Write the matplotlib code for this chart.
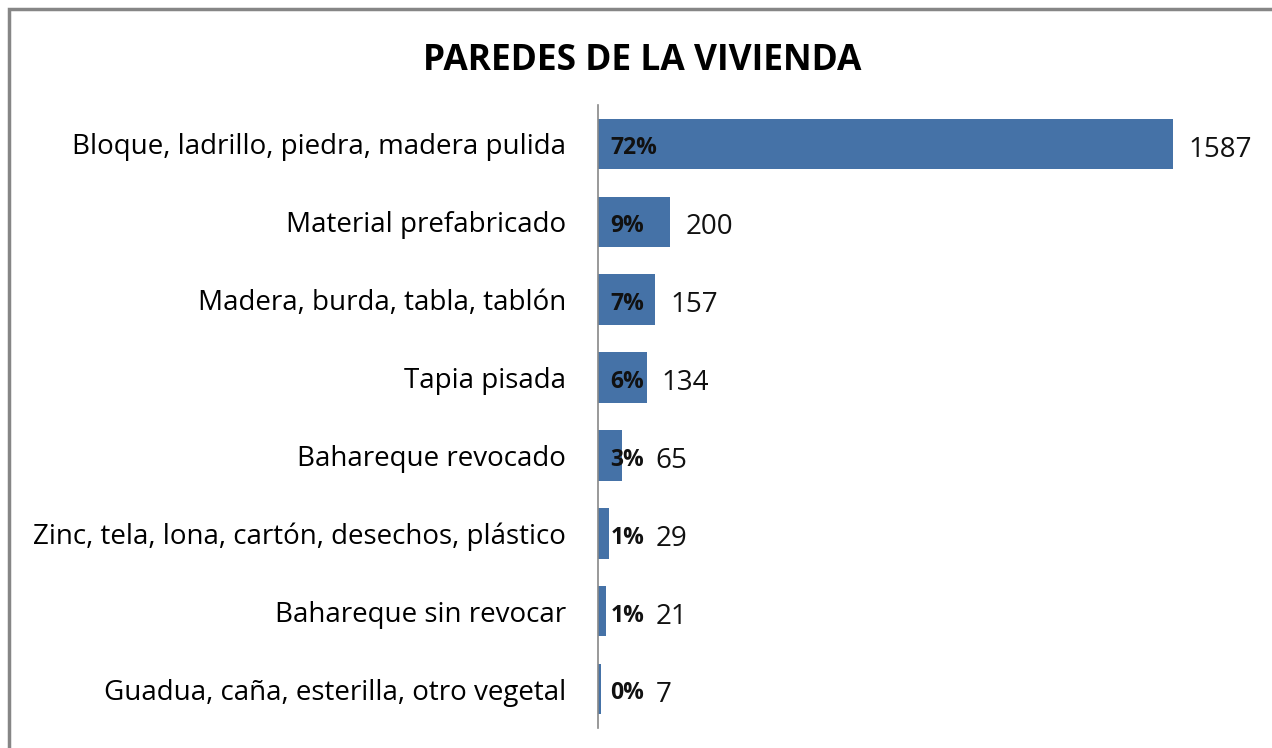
import matplotlib.pyplot as plt
from matplotlib.patches import Rectangle

categories = [
    "Bloque, ladrillo, piedra, madera pulida",
    "Material prefabricado",
    "Madera, burda, tabla, tablón",
    "Tapia pisada",
    "Bahareque revocado",
    "Zinc, tela, lona, cartón, desechos, plástico",
    "Bahareque sin revocar",
    "Guadua, caña, esterilla, otro vegetal",
]
counts = [1587, 200, 157, 134, 65, 29, 21, 7]
percents = ["72%", "9%", "7%", "6%", "3%", "1%", "1%", "0%"]

BAR_COLOR = "#4572A7"
FONT = ["Open Sans", "DejaVu Sans"]


def main():
    fig = plt.figure(figsize=(12.72, 7.48), dpi=100)
    fig.patches.append(Rectangle((9 / 1272, -0.01), 1.1, 1 - 9 / 748 + 0.01,
                                 transform=fig.transFigure, fill=False,
                                 edgecolor="#868686", linewidth=2.5))
    ax = fig.add_axes([598 / 1272, 1 - 728 / 748, 652 / 1272, 623 / 748])

    y = list(range(len(categories)))
    ax.barh(y, counts, height=0.65, color=BAR_COLOR)
    ax.set_xlim(0, 1800)
    ax.set_ylim(len(categories) - 0.5, -0.5)

    ax.set_yticks(y, categories, fontsize=20, family=FONT)
    ax.tick_params(axis="y", length=0, pad=23)
    ax.set_xticks([])
    for side in ("top", "right", "bottom"):
        ax.spines[side].set_visible(False)
    ax.spines["left"].set_color("#888888")
    ax.spines["left"].set_linewidth(1.2)

    for i, (c, p) in enumerate(zip(counts, percents)):
        ax.annotate(p, (0, i), xytext=(9, -1), textcoords="offset points",
                    va="center_baseline", ha="left", fontsize=16.5, fontweight="bold",
                    family=FONT, color="#111111")
        ax.annotate(str(c), (max(c, 117), i), xytext=(11, -1.5), textcoords="offset points",
                    va="center_baseline", ha="left", fontsize=20, family=FONT, color="#111111")

    fig.text(642 / 1272, 1 - 56 / 748, "PAREDES DE LA VIVIENDA", ha="center",
             va="center_baseline", fontsize=25.5, fontweight="bold", family=FONT)

    fig.savefig("out.png", dpi=100)


if __name__ == "__main__":
    main()
